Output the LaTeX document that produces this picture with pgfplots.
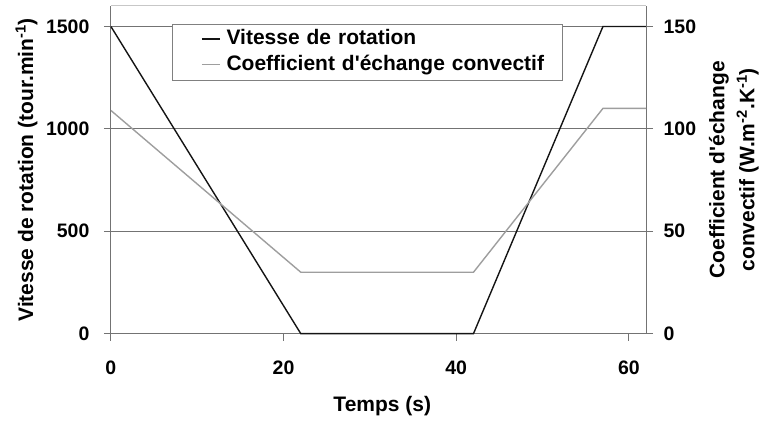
\documentclass[border=0pt]{standalone}
\usepackage{fontspec}
\setmainfont{Liberation Sans}[Ligatures=TeXOff]
\usepackage{pgfplots}
\pgfplotsset{compat=1.18}
\definecolor{blk}{gray}{0.08}
\definecolor{gry}{gray}{0.62}
\definecolor{gridc}{gray}{0.45}
\definecolor{framec}{gray}{0.78}
\definecolor{legc}{gray}{0.5}
\begin{document}
\begin{tikzpicture}
\pgfplotsset{
  every axis/.append style={
    scale only axis, width=535.7bp, height=328bp,
    at={(0,0)}, anchor=south west,
    xmin=0, xmax=62,
    /pgf/number format/assume math mode=true,
    /pgf/number format/1000 sep={},
    tick align=outside, major tick length=7bp,
    tick style={gridc, line width=0.8bp},
    axis line style={gridc, line width=0.8bp},
    tick label style={font=\fontsize{19.5bp}{23bp}\selectfont\bfseries},
    label style={font=\fontsize{21bp}{30bp}\selectfont\bfseries},
  }
}
\begin{axis}[
  ymin=0, ymax=1600,
  ytick={0,500,1000,1500},
  xtick={0,20,40,60},
  axis x line*=bottom, axis y line*=left,
  ymajorgrids, grid style={gridc, line width=0.8bp},
  xticklabel style={yshift=-17bp},
  yticklabel style={xshift=-11bp},
  xlabel={Temps (s)},
  ylabel={Vitesse de rotation (tour.min\textsuperscript{-1})},
  xlabel style={at={(axis description cs:0.507,-0.221)}, anchor=center},
  ylabel style={at={(axis description cs:-0.1577,0.5)}, anchor=center, rotate=0},
  clip=false,
]
\draw[framec, line width=1bp] (rel axis cs:0,1) -- (rel axis cs:1,1);
\addplot[blk, line width=1.4bp] coordinates {(0,1500) (22,0) (42,0) (57,1500) (62,1500)};
\end{axis}
\begin{axis}[
  ymin=0, ymax=160,
  ytick={0,50,100,150},
  xtick=\empty,
  axis x line=none, axis y line*=right,
  yticklabel style={xshift=7bp},
  ylabel={Coefficient d'échange\\convectif (W.m\textsuperscript{-2}.K\textsuperscript{-1})},
  ylabel style={at={(axis description cs:1.1639,0.5)}, anchor=center, align=center, rotate=0},
  legend cell align=left,
  legend style={at={(rel axis cs:0.1133,0.9451)}, anchor=north west,
    draw=legc, line width=0.8bp, fill=white,
    inner xsep=0pt, inner ysep=5.5bp, row sep=6bp, column sep=6bp,
    font=\fontsize{21bp}{25bp}\selectfont\bfseries,
    nodes={inner sep=0pt, text height=15bp, text depth=4.5bp, text width=336bp, align=left}},
  legend image code/.code={\path[draw=none] (0bp,0bp) -- (30bp,0bp); \draw[#1] (30bp,0.5bp) -- (48bp,0.5bp);},
]
\addlegendimage{blk, line width=1.4bp}
\addlegendentry{Vitesse de rotation}
\addplot[gry, line width=1.4bp] coordinates {(0,109) (22,30) (42,30) (57,110) (62,110)};
\addlegendentry{Coefficient d'échange convectif}
\end{axis}
\path[use as bounding box] (-111bp,-87bp) rectangle (651bp,334bp);
\end{tikzpicture}
\end{document}
